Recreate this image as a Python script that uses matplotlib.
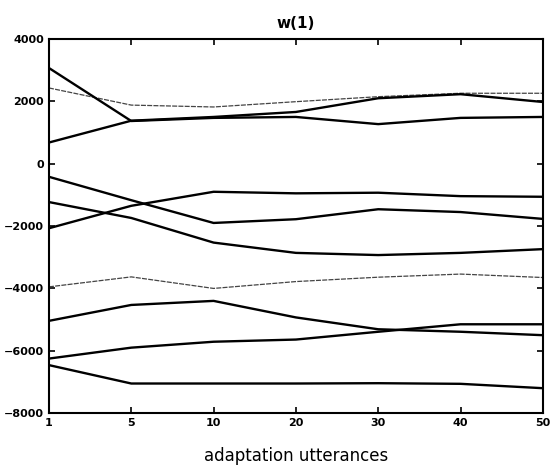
import matplotlib.pyplot as plt

# adaptation utterances (equally spaced categories on the x axis)
utterances = ["1", "5", "10", "20", "30", "40", "50"]

# thick lines
w_a = [3070, 1370, 1470, 1500, 1270, 1470, 1500]
w_b = [680, 1380, 1500, 1660, 2100, 2230, 1980]
w_c = [-420, -1170, -1900, -1780, -1460, -1550, -1770]
w_d = [-2070, -1350, -900, -950, -930, -1040, -1060]
w_e = [-1230, -1740, -2530, -2860, -2930, -2860, -2740]
w_f = [-5040, -4530, -4400, -4930, -5310, -5390, -5500]
w_g = [-6250, -5900, -5710, -5640, -5390, -5150, -5150]
w_h = [-6460, -7050, -7050, -7050, -7040, -7060, -7200]

# thin lines
w_thin1 = [2430, 1880, 1820, 1990, 2150, 2260, 2260]
w_thin2 = [-3950, -3630, -4000, -3780, -3640, -3540, -3650]

thick = [w_a, w_b, w_c, w_d, w_e, w_f, w_g, w_h]
thin = [w_thin1, w_thin2]

fig = plt.figure(figsize=(5.5, 4.7), dpi=100)
ax = fig.add_axes([0.089, 0.121, 0.898, 0.796])

x = list(range(len(utterances)))
for ys in thin:
    ax.plot(x, ys, color="#444444", lw=0.9, linestyle=(0, (4, 1)))
for ys in thick:
    ax.plot(x, ys, color="black", lw=1.7)

ax.set_xlim(0, len(utterances) - 1)
ax.set_ylim(-8000, 4000)
ax.set_xticks(x)
ax.set_xticklabels(utterances)
ax.set_yticks(range(-8000, 4001, 2000))
ax.tick_params(direction="in", top=True, right=True, length=4, width=1.2,
               labelsize=8)
for lab in ax.get_xticklabels() + ax.get_yticklabels():
    lab.set_fontweight("bold")
for s in ax.spines.values():
    s.set_linewidth(1.5)

ax.set_title("w(1)", fontsize=11, fontweight="semibold", pad=8)
ax.set_xlabel("adaptation utterances", fontsize=12, labelpad=14)

plt.savefig("out.png")
